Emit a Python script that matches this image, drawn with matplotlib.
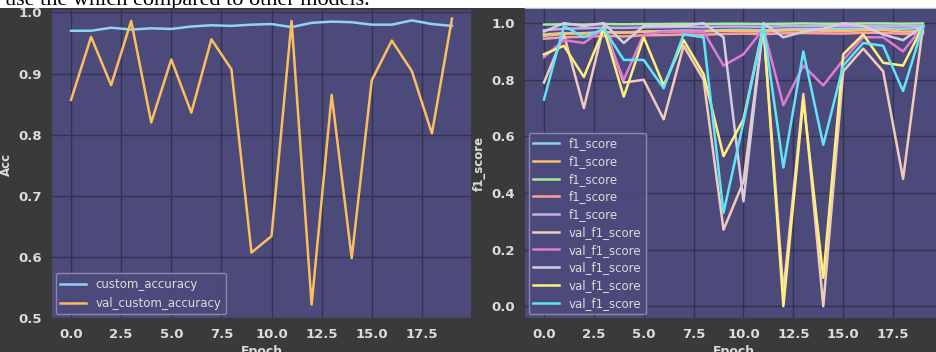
import numpy as np
import matplotlib.pyplot as plt
from matplotlib.patches import Rectangle
from matplotlib.lines import Line2D

# Daten
epochs = list(range(20))

custom_accuracy = [0.970, 0.970, 0.975, 0.972, 0.974, 0.973, 0.977, 0.979, 0.978, 0.980,
                   0.981, 0.976, 0.983, 0.985, 0.984, 0.980, 0.980, 0.987, 0.981, 0.978]
val_custom_accuracy = [0.857, 0.960, 0.881, 0.986, 0.820, 0.923, 0.836, 0.956, 0.907, 0.607,
                       0.634, 0.986, 0.522, 0.865, 0.598, 0.889, 0.954, 0.904, 0.802, 0.990]

f1_train = [
    [0.955, 0.962, 0.965, 0.968, 0.966, 0.970, 0.972, 0.974, 0.973, 0.976,
     0.977, 0.975, 0.978, 0.980, 0.979, 0.980, 0.981, 0.982, 0.980, 0.983],
    [0.960, 0.965, 0.963, 0.968, 0.967, 0.970, 0.969, 0.972, 0.971, 0.973,
     0.972, 0.970, 0.974, 0.975, 0.973, 0.972, 0.975, 0.976, 0.970, 0.972],
    [0.995, 0.996, 0.995, 0.997, 0.996, 0.997, 0.997, 0.998, 0.997, 0.998,
     0.998, 0.997, 0.998, 0.999, 0.998, 0.998, 0.999, 0.999, 0.998, 0.999],
    [0.945, 0.950, 0.952, 0.955, 0.953, 0.957, 0.958, 0.960, 0.959, 0.962,
     0.963, 0.961, 0.964, 0.965, 0.964, 0.963, 0.966, 0.966, 0.962, 0.964],
    [0.975, 0.980, 0.982, 0.984, 0.983, 0.985, 0.986, 0.987, 0.986, 0.988,
     0.988, 0.987, 0.989, 0.990, 0.989, 0.989, 0.990, 0.991, 0.989, 0.990],
]
f1_val = [
    [0.79, 0.96, 0.70, 0.99, 0.79, 0.80, 0.66, 0.92, 0.80, 0.27,
     0.44, 0.99, 0.05, 0.75, 0.00, 0.83, 0.91, 0.83, 0.45, 0.99],
    [0.88, 0.94, 0.93, 0.98, 0.80, 0.96, 0.97, 0.97, 0.97, 0.85,
     0.89, 0.98, 0.71, 0.85, 0.78, 0.87, 0.95, 0.95, 0.90, 0.99],
    [0.97, 1.00, 0.99, 1.00, 0.93, 0.99, 0.99, 0.99, 1.00, 0.95,
     0.37, 1.00, 0.95, 0.97, 0.98, 1.00, 0.99, 0.96, 0.94, 0.99],
    [0.89, 0.92, 0.81, 0.98, 0.74, 0.95, 0.78, 0.94, 0.82, 0.53,
     0.66, 0.99, 0.00, 0.73, 0.10, 0.89, 0.96, 0.86, 0.85, 0.99],
    [0.73, 0.99, 0.95, 0.98, 0.87, 0.87, 0.77, 0.96, 0.95, 0.33,
     0.65, 0.99, 0.49, 0.90, 0.57, 0.85, 0.93, 0.92, 0.76, 0.99],
]

train_colors = ["#8fd3f5", "#fdbf6c", "#a4eea0", "#ff9e9a", "#c8aeea"]
val_colors = ["#f3cbbb", "#e27ad4", "#d8cde0", "#fff07e", "#5fe6f8"]

axes_bg = "#4b4a7b"
panel_bg = "#3a3a3c"
text_col = "#dcdcdc"
grid_col = "#33334f"

fig = plt.figure(figsize=(9.36, 3.52), dpi=100, facecolor="white")

# dunkler Hintergrund der Screenshot-Panels
fig.add_artist(Rectangle((0, 0), 1, 344 / 352, transform=fig.transFigure,
                         facecolor=panel_bg, edgecolor="none", zorder=-10))
fig.add_artist(Line2D([525 / 936, 1], [344 / 352, 344 / 352], transform=fig.transFigure,
                      color="#b8b8c8", lw=1, zorder=-9))

# abgeschnittener Text oben (wird vom Panel teilweise verdeckt)
fig.text(5 / 936, 347 / 352, "use the which compared to other models.",
         family="Liberation Serif", fontsize=16, color="black", va="baseline",
         zorder=-20)


def style_axes(ax):
    ax.set_facecolor(axes_bg)
    for s in ax.spines.values():
        s.set_visible(False)
    ax.grid(True, color=grid_col, lw=1)
    ax.set_axisbelow(True)
    ax.tick_params(length=0, colors=text_col, labelsize=9.5, pad=7)
    for lab in ax.get_xticklabels() + ax.get_yticklabels():
        lab.set_fontweight("bold")


ax1 = fig.add_axes([52 / 936, 34 / 352, 419 / 936, 308 / 352])
ax1.plot(epochs, custom_accuracy, color="#8fd3f5", lw=1.8, label="custom_accuracy")
ax1.plot(epochs, val_custom_accuracy, color="#fdbf5e", lw=1.8, label="val_custom_accuracy")
ax1.set_xlim(-0.95, 19.95)
ax1.set_ylim(0.5, 1.004)
ax1.set_yticks([0.5, 0.6, 0.7, 0.8, 0.9, 1.0])
ax1.set_xticks([0, 2.5, 5, 7.5, 10, 12.5, 15, 17.5])
style_axes(ax1)
ax1.set_ylabel("Acc", color=text_col, fontsize=8.5, fontweight="bold", labelpad=4)
ax1.set_xlabel("Epoch", color=text_col, fontsize=9, fontweight="bold", labelpad=3)
leg1 = ax1.legend(loc="lower left", fontsize=8.5, facecolor=axes_bg, edgecolor="#9090b0",
                  labelcolor=text_col, framealpha=0.9, handlelength=2.2,
                  borderaxespad=0.3)

ax2 = fig.add_axes([525 / 936, 34 / 352, 417 / 936, 309 / 352])
for vals, c in zip(f1_train, train_colors):
    ax2.plot(epochs, vals, color=c, lw=1.8, label="f1_score")
for vals, c in zip(f1_val, val_colors):
    ax2.plot(epochs, vals, color=c, lw=1.8, label="val_f1_score")
ax2.set_xlim(-0.95, 19.95)
ax2.set_ylim(-0.042, 1.05)
ax2.set_yticks([0.0, 0.2, 0.4, 0.6, 0.8, 1.0])
ax2.set_xticks([0, 2.5, 5, 7.5, 10, 12.5, 15, 17.5])
style_axes(ax2)
ax2.set_ylabel("f1_score", color=text_col, fontsize=8.5, fontweight="bold", labelpad=4)
ax2.set_xlabel("Epoch", color=text_col, fontsize=9, fontweight="bold", labelpad=3)
leg2 = ax2.legend(loc="lower left", fontsize=8.5, facecolor=axes_bg, edgecolor="#9090b0",
                  labelcolor=text_col, framealpha=0.9, handlelength=2.2,
                  borderaxespad=0.3, labelspacing=0.4)

fig.savefig("out.png", dpi=100, facecolor=fig.get_facecolor())
